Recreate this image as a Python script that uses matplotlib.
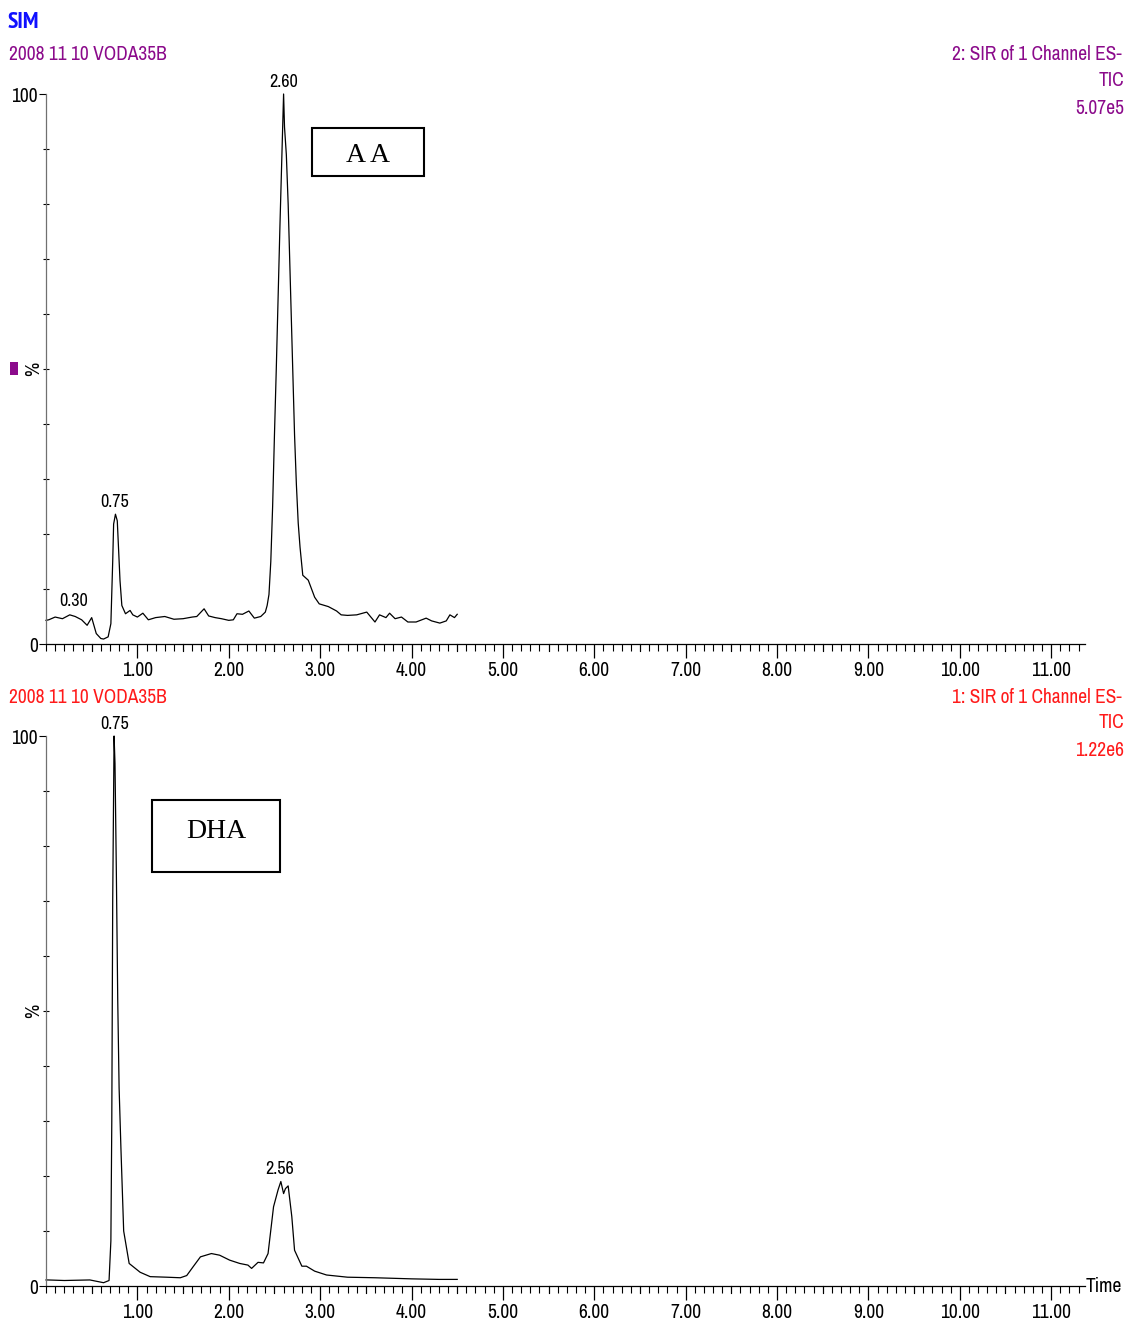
import matplotlib
matplotlib.use("Agg")
import matplotlib.pyplot as plt
from matplotlib.patches import Rectangle
from matplotlib.ticker import MultipleLocator, FixedLocator, FuncFormatter

# chromatogram traces (time in min, intensity in %)
aa_time = [0.00, 0.03, 0.10, 0.18, 0.26, 0.32, 0.39, 0.45, 0.50, 0.55, 0.60, 0.63, 0.68,
           0.71, 0.73, 0.74, 0.76, 0.78, 0.81, 0.83, 0.87, 0.92, 0.95, 1.00, 1.06, 1.12,
           1.20, 1.30, 1.40, 1.50, 1.60, 1.65, 1.73, 1.78, 1.85, 1.92, 2.00, 2.05, 2.09,
           2.15, 2.22, 2.28, 2.35, 2.40, 2.42, 2.44, 2.46, 2.48, 2.50, 2.52, 2.54, 2.56,
           2.58, 2.60, 2.61, 2.63, 2.65, 2.67, 2.69, 2.70, 2.72, 2.74, 2.76, 2.78, 2.81,
           2.87, 2.94, 2.99, 3.09, 3.18, 3.23, 3.30, 3.40, 3.51, 3.60, 3.65, 3.72, 3.76,
           3.82, 3.89, 3.96, 4.05, 4.16, 4.22, 4.31, 4.38, 4.42, 4.47, 4.50]
aa_val = [4.3, 4.4, 4.9, 4.6, 5.3, 5.0, 4.4, 3.4, 4.8, 1.9, 1.0, 0.9, 1.3,
          3.7, 15.0, 21.8, 23.6, 22.4, 11.5, 7.0, 5.5, 6.1, 5.3, 4.9, 5.6, 4.4,
          4.8, 5.0, 4.5, 4.6, 4.9, 5.0, 6.4, 5.1, 4.8, 4.6, 4.3, 4.4, 5.5,
          5.4, 6.0, 4.7, 5.0, 5.8, 7.0, 9.0, 15.0, 25.0, 38.0, 50.0, 63.0, 76.0,
          88.0, 100.0, 94.0, 89.0, 80.0, 68.0, 56.0, 50.0, 38.0, 29.0, 22.0, 17.6, 12.5,
          11.6, 8.5, 7.3, 6.8, 6.0, 5.3, 5.2, 5.3, 5.8, 4.0, 5.3, 4.8, 5.6,
          4.6, 4.9, 4.0, 4.0, 4.7, 4.2, 3.8, 4.2, 5.3, 4.8, 5.4]

dha_time = [0.00, 0.02, 0.20, 0.48, 0.63, 0.69, 0.71, 0.72, 0.73, 0.745, 0.755, 0.77,
            0.785, 0.80, 0.82, 0.85, 0.91, 1.03, 1.14, 1.32, 1.47, 1.54, 1.61, 1.69,
            1.81, 1.90, 2.01, 2.12, 2.21, 2.25, 2.32, 2.38, 2.43, 2.49, 2.54, 2.57,
            2.60, 2.62, 2.65, 2.69, 2.72, 2.80, 2.85, 2.94, 3.07, 3.30, 3.60, 4.00,
            4.30, 4.50]
dha_val = [1.1, 1.1, 1.0, 1.1, 0.6, 1.0, 8.2, 30.0, 70.0, 100.0, 95.0, 75.0,
           52.0, 36.0, 25.0, 10.0, 4.1, 2.5, 1.7, 1.6, 1.5, 1.9, 3.5, 5.3,
           5.9, 5.6, 4.7, 4.1, 3.8, 3.2, 4.3, 4.2, 5.9, 14.4, 17.5, 19.0,
           16.8, 17.7, 18.2, 12.6, 6.5, 3.6, 3.6, 2.7, 2.0, 1.6, 1.5, 1.3,
           1.2, 1.2]

aa_peaks = [(0.30, 5.6, "0.30"), (0.75, 23.6, "0.75"), (2.60, 100.0, "2.60")]
dha_peaks = [(0.75, 100.0, "0.75"), (2.56, 19.0, "2.56")]

W, H = 1126, 1322
plt.rcParams["font.family"] = ["Liberation Sans Narrow", "Archivo Narrow",
                               "PT Sans Narrow", "DejaVu Sans"]
fig = plt.figure(figsize=(W / 100, H / 100), dpi=100)

PURPLE = "#8b0a8b"
RED = "#ff1a1a"
FS = 14


def fx(px):
    return px / W


def fy(py):
    return 1 - py / H


def setup_axis(ax):
    ax.set_xlim(0, 11.37)
    ax.set_ylim(0, 100)
    for s in ["top", "right"]:
        ax.spines[s].set_visible(False)
    ax.spines["left"].set_color("#707070")
    ax.spines["left"].set_linewidth(0.9)
    ax.spines["bottom"].set_linewidth(0.9)
    ax.xaxis.set_major_locator(FixedLocator(range(1, 12)))
    ax.xaxis.set_minor_locator(MultipleLocator(0.1))
    ax.xaxis.set_major_formatter(FuncFormatter(lambda v, p: "%.2f" % v))
    ax.tick_params(axis="x", which="major", direction="out", length=10, width=0.9,
                   labelsize=FS, pad=2)
    ax.tick_params(axis="x", which="minor", direction="out", length=5, width=0.8)
    # half-minute ticks a bit longer
    for t in [0.5 + i for i in range(11)]:
        ax.plot([t, t], [0, -1.3], color="black", lw=0.8, clip_on=False)
    ax.yaxis.set_major_locator(FixedLocator([0, 100]))
    ax.yaxis.set_minor_locator(FixedLocator([10, 20, 30, 40, 50, 60, 70, 80, 90]))
    ax.tick_params(axis="y", which="major", direction="out", length=5, width=0.8,
                   labelsize=FS, pad=1)
    ax.tick_params(axis="y", which="minor", direction="inout", length=5, width=0.8)
    ax.set_ylabel("%", fontsize=FS)
    ax.yaxis.set_label_coords(-0.003, 0.5)
    ax.patch.set_alpha(0)


ax1 = fig.add_axes([fx(46), fy(644), fx(1085 - 46), (644 - 94) / H])
ax2 = fig.add_axes([fx(46), fy(1286), fx(1085 - 46), (1286 - 736) / H])

for ax, t, v, peaks in [(ax1, aa_time, aa_val, aa_peaks), (ax2, dha_time, dha_val, dha_peaks)]:
    setup_axis(ax)
    ax.plot(t, v, color="black", lw=0.9, clip_on=False)
    for pt, pv, lab in peaks:
        ax.annotate(lab, (pt, pv), xytext=(0, 3), textcoords="offset points",
                    ha="center", va="bottom", fontsize=FS - 1)

# header texts
fig.text(fx(8), fy(22), "SIM", color="#1010ff", fontsize=17, fontweight="bold",
         family=["PT Sans Narrow", "DejaVu Sans"], va="center", ha="left")
fig.text(fx(9), fy(55), "2008 11 10 VODA35B", color=PURPLE, fontsize=FS, va="center")
fig.text(fx(1122), fy(55), "2: SIR of 1 Channel ES-", color=PURPLE, fontsize=FS,
         va="center", ha="right")
fig.text(fx(1124), fy(81), "TIC", color=PURPLE, fontsize=FS, va="center", ha="right")
fig.text(fx(1124), fy(108), "5.07e5", color=PURPLE, fontsize=FS, va="center", ha="right")

fig.text(fx(9), fy(697), "2008 11 10 VODA35B", color=RED, fontsize=FS, va="center")
fig.text(fx(1122), fy(697), "1: SIR of 1 Channel ES-", color=RED, fontsize=FS,
         va="center", ha="right")
fig.text(fx(1124), fy(723), "TIC", color=RED, fontsize=FS, va="center", ha="right")
fig.text(fx(1124), fy(750), "1.22e6", color=RED, fontsize=FS, va="center", ha="right")

fig.text(fx(1122), fy(1287), "Time", fontsize=FS, va="center", ha="right")

# small purple marker
fig.patches.append(Rectangle((fx(10), fy(375)), fx(8), 13 / H, transform=fig.transFigure,
                             facecolor=PURPLE, edgecolor="none"))

# compound boxes
for (x0, y0, x1, y1, lab, ty) in [(312, 128, 424, 176, "A A", 156),
                                  (152, 800, 280, 872, "DHA", 831)]:
    fig.patches.append(Rectangle((fx(x0), fy(y1)), fx(x1 - x0), (y1 - y0) / H,
                                 transform=fig.transFigure, facecolor="none",
                                 edgecolor="black", lw=1.5))
    fig.text(fx((x0 + x1) / 2), fy(ty), lab, family="Liberation Serif",
             fontsize=20, ha="center", va="center")

fig.savefig("out.png", dpi=100)
